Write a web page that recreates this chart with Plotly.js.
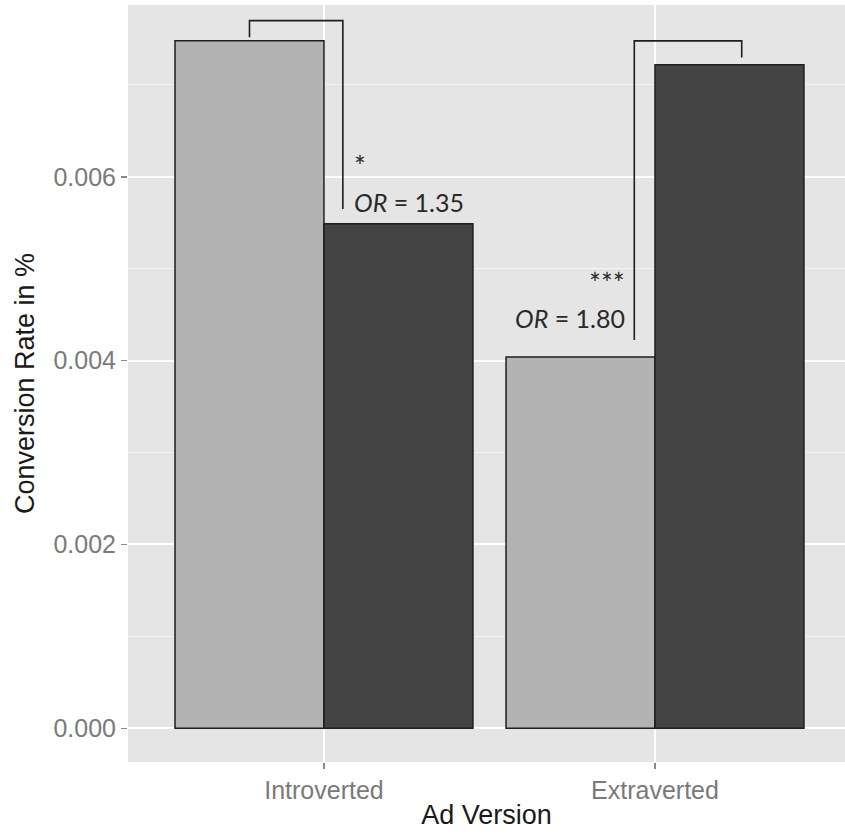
<!DOCTYPE html>
<html>
<head>
<meta charset="utf-8">
<script src="https://cdn.plot.ly/plotly-3.0.1.min.js"></script>
<style>html,body{margin:0;padding:0;background:#fff;}#chart{width:845px;height:834px;}</style>
</head>
<body>
<div id="chart"></div>
<script>
// ---- data ----
const categories = ["Introverted", "Extraverted"];
const lightValues = [0.00748, 0.00404];   // light grey bars
const darkValues  = [0.00549, 0.00722];   // dark grey bars
const yTickVals   = [0, 0.002, 0.004, 0.006];
const yTickText   = ["0.000", "0.002", "0.004", "0.006"];
// significance brackets: [x-left, x-right, y-top, y-left-end, y-right-end] (category index units)
const bracketIntro = [-0.225, 0.057, 0.00770, 0.00752, 0.00565];
const bracketExtra = [0.9375, 1.262, 0.00748, 0.004225, 0.00730];
const starsLabels = ["*", "***"];
const orLabels    = ["<i>OR</i> = 1.35", "<i>OR</i> = 1.80"];

const ink = "#1e1e1e";
const traces = [
  { type: "bar", x: [0, 1], y: lightValues, width: 0.45, offset: -0.45,
    marker: { color: "#b3b3b3", line: { color: ink, width: 1.5 } }, hoverinfo: "none" },
  { type: "bar", x: [0, 1], y: darkValues, width: 0.45, offset: 0,
    marker: { color: "#444444", line: { color: ink, width: 1.5 } }, hoverinfo: "none" }
];

function bracketPath(b) {
  return "M " + b[0] + "," + b[3] + " L " + b[0] + "," + b[2] +
         " L " + b[1] + "," + b[2] + " L " + b[1] + "," + b[4];
}
const shapes = [bracketIntro, bracketExtra].map(b => ({
  type: "path", xref: "x", yref: "y", path: bracketPath(b),
  line: { color: ink, width: 1.6 }
}));

const annFont = { family: "Lato, 'Open Sans', sans-serif", size: 25, color: "#2a2a2a" };
const starFont = { family: "Lato, 'Open Sans', sans-serif", size: 28, color: "#2a2a2a" };
const annotations = [
  { x: 0.0876, y: 0.00612, text: starsLabels[0], xanchor: "left", yanchor: "middle", font: starFont },
  { x: 0.0876, y: 0.005727, text: orLabels[0], xanchor: "left", yanchor: "middle", font: annFont },
  { x: 0.912, y: 0.00485, text: starsLabels[1], xanchor: "right", yanchor: "middle", font: starFont },
  { x: 0.912, y: 0.004467, text: orLabels[1], xanchor: "right", yanchor: "middle", font: annFont }
].map(a => Object.assign({ xref: "x", yref: "y", showarrow: false, borderpad: 0 }, a));

const layout = {
  width: 845, height: 834,
  margin: { l: 128, r: 0, t: 5, b: 72 },
  paper_bgcolor: "#ffffff",
  plot_bgcolor: "#e5e5e5",
  showlegend: false,
  barmode: "overlay",
  font: { family: "'Liberation Sans', Arial, sans-serif" },
  xaxis: {
    range: [-0.592, 1.574],
    tickvals: [0, 1], ticktext: categories,
    showgrid: true, gridcolor: "#ffffff", gridwidth: 2,
    zeroline: false, showline: false,
    ticks: "outside", ticklen: 6, tickwidth: 1.5, tickcolor: "#8a8a8a",
    tickfont: { size: 25, color: "#7a7a7a" },
    title: { text: "Ad Version", font: { size: 27, color: "#1a1a1a" }, standoff: 2 },
    fixedrange: true
  },
  yaxis: {
    range: [-0.000367, 0.00787],
    tickvals: yTickVals, ticktext: yTickText,
    showgrid: true, gridcolor: "#ffffff", gridwidth: 2,
    minor: { dtick: 0.001, tick0: 0, showgrid: true, gridcolor: "#f2f2f2", gridwidth: 1, ticks: "" },
    zeroline: false, showline: false,
    ticks: "outside", ticklen: 6, tickwidth: 1.5, tickcolor: "#8a8a8a",
    tickfont: { size: 25, color: "#7a7a7a" },
    title: { text: "Conversion Rate in %", font: { size: 27, color: "#1a1a1a" }, standoff: 10 },
    fixedrange: true
  },
  shapes: shapes,
  annotations: annotations
};

Plotly.newPlot("chart", traces, layout, { displayModeBar: false, staticPlot: true });
</script>
</body>
</html>
